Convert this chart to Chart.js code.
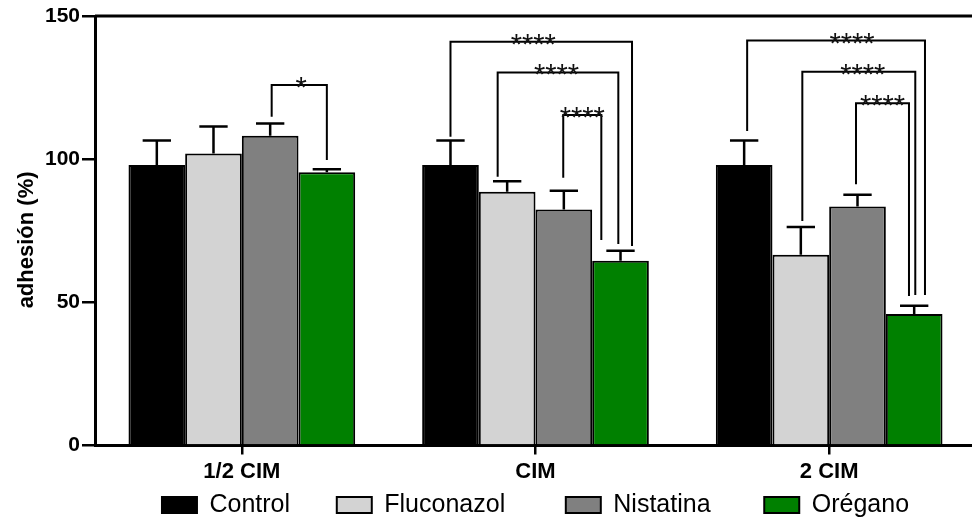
<!DOCTYPE html>
<html><head><meta charset="utf-8">
<script src="https://cdn.jsdelivr.net/npm/chart.js@4/dist/chart.umd.min.js"></script>
<style>html,body{margin:0;padding:0;overflow:hidden;background:#fff;width:972px;height:520px}canvas{display:block}</style>
</head><body><canvas id="c" width="990" height="520" style="width:990px;height:520px"></canvas>
<script>
// ---- data ----
const categories = ['1/2 CIM', 'CIM', '2 CIM'];
const seriesNames = ['Control', 'Fluconazol', 'Nistatina', 'Orégano'];
const control = [98.0, 98.0, 98.0];
const controlErr = [8.5, 8.5, 8.5];
const fluconazol = [102.0, 88.6, 66.6];
const fluconazolErr = [9.4, 3.7, 9.7];
const nistatina = [108.2, 82.4, 83.5];
const nistatinaErr = [4.3, 6.6, 4.1];
const oregano = [95.4, 64.5, 45.9];
const oreganoErr = [1.1, 3.5, 2.9];
const yTicks = [0, 50, 100, 150];
const yTitle = 'adhesión (%)';
// significance brackets (values in data units)
const sigGroup = [0, 1, 1, 1, 2, 2, 2];
const sigFrom = [2, 0, 1, 2, 0, 1, 2];
const sigTo = [3, 3, 3, 3, 3, 3, 3];
const sigTop = [125.9, 141.0, 130.3, 115.4, 141.4, 130.5, 119.5];
const sigFromEnd = [114.8, 107.8, 93.9, 93.5, 109.8, 78.4, 91.2];
const sigToEnd = [99.7, 69.7, 70.4, 71.8, 52.6, 52.6, 52.2];
const sigLabel = ['*', '****', '****', '****', '****', '****', '****'];

// ---- styles ----
const FONT = "'Liberation Sans', Arial, sans-serif";
const colors = ['#000000', '#d3d3d3', '#808080', '#008000'];
const legOffL = [1.5, 0, -9.5, -0.6, 3, 1.5, -1.5];
const legOffR = [0, 11.5, -2.2, -19.2, 10.8, 1.1, -5.2];
const starOff = [2, -8, -1.4, 0, 16, 4, 0];
const legendGapSpaces = [5, 7, 6, 0];

const values = [control, fluconazol, nistatina, oregano];
const errs = [controlErr, fluconazolErr, nistatinaErr, oreganoErr];

const datasets = seriesNames.map((name, i) => ({
  label: name,
  data: values[i],
  err: errs[i],
  backgroundColor: colors[i],
  borderColor: '#000',
  borderWidth: 2,
  borderSkipped: 'bottom',
  categoryPercentage: 0.772,
  barPercentage: 1
}));

const annot = {
  id: 'annot',
  afterDatasetsDraw(chart) {
    const ctx = chart.ctx, ys = chart.scales.y, area = chart.chartArea;
    ctx.save();
    ctx.strokeStyle = '#000';
    ctx.lineCap = 'butt';
    // top frame line
    ctx.lineWidth = 3;
    ctx.beginPath(); ctx.moveTo(area.left, area.top); ctx.lineTo(area.right, area.top); ctx.stroke();
    // error bars (upper only)
    ctx.lineWidth = 2.5;
    chart.data.datasets.forEach((ds, i) => {
      const meta = chart.getDatasetMeta(i);
      meta.data.forEach((bar, j) => {
        const v = ds.data[j], e = ds.err[j];
        const y0 = ys.getPixelForValue(v), y1 = ys.getPixelForValue(v + e);
        const hw = bar.width / 4;
        ctx.beginPath();
        ctx.moveTo(bar.x, y0); ctx.lineTo(bar.x, y1);
        ctx.moveTo(bar.x - hw, y1); ctx.lineTo(bar.x + hw, y1);
        ctx.stroke();
      });
    });
    // significance brackets
    ctx.lineWidth = 2;
    ctx.font = '29px ' + FONT;
    ctx.fillStyle = '#111';
    ctx.textAlign = 'center';
    ctx.textBaseline = 'alphabetic';
    sigGroup.forEach((g, k) => {
      const bL = chart.getDatasetMeta(sigFrom[k]).data[g];
      const bR = chart.getDatasetMeta(sigTo[k]).data[g];
      const xL = bL.x + legOffL[k], xR = bR.x + legOffR[k];
      const yT = ys.getPixelForValue(sigTop[k]);
      const yL = ys.getPixelForValue(sigFromEnd[k]);
      const yR = ys.getPixelForValue(sigToEnd[k]);
      ctx.beginPath();
      ctx.moveTo(xL, yL); ctx.lineTo(xL, yT); ctx.lineTo(xR, yT); ctx.lineTo(xR, yR);
      ctx.stroke();
      ctx.fillText(sigLabel[k], (xL + xR) / 2 + starOff[k], yT + 12);
    });
    ctx.restore();
  }
};

new Chart(document.getElementById('c'), {
  type: 'bar',
  data: { labels: categories, datasets },
  plugins: [annot],
  options: {
    responsive: false,
    animation: false,
    devicePixelRatio: 1,
    layout: { padding: { top: 16, right: 14, bottom: -7.5, left: 0 } },
    scales: {
      x: {
        grid: { display: true, offset: false, drawOnChartArea: false, tickLength: 9, color: '#000', lineWidth: 2.5 },
        border: { display: true, color: '#000', width: 3 },
        ticks: { font: { family: FONT, size: 22, weight: 'bold' }, color: '#000', padding: 4, maxRotation: 0 },
        afterFit(s) { s.height = 35; }
      },
      y: {
        min: 0, max: 150,
        afterBuildTicks(s) { s.ticks = yTicks.map(v => ({ value: v })); },
        grid: { drawOnChartArea: false, tickLength: 13, color: '#000', lineWidth: 2.5 },
        border: { display: true, color: '#000', width: 3 },
        ticks: { font: { family: FONT, size: 21, weight: 'bold' }, color: '#000', padding: 2 },
        title: { display: true, text: yTitle + '   ', font: { family: FONT, size: 22, weight: 'bold' }, color: '#000', padding: { top: 14, bottom: 0 } },
        afterFit(s) { s.width = 95; }
      }
    },
    plugins: {
      legend: {
        position: 'bottom',
        fullSize: false,
        labels: {
          boxWidth: 35, boxHeight: 16, padding: 12, color: '#000',
          font: { family: FONT, size: 25 },
          generateLabels(chart) {
            const items = Chart.defaults.plugins.legend.labels.generateLabels(chart);
            items.forEach((it, i) => { it.text = it.text + ' '.repeat(legendGapSpaces[i]); });
            return items;
          }
        }
      },
      tooltip: { enabled: false }
    }
  }
});
</script>
</body></html>
